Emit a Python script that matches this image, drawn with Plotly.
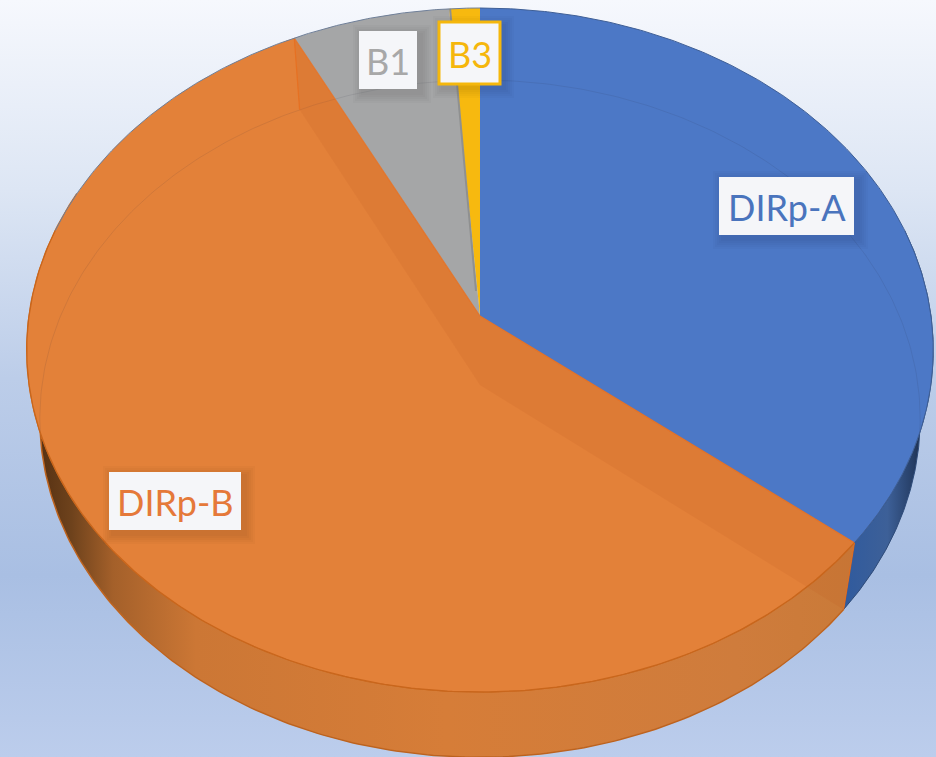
import numpy as np
import plotly.graph_objects as go

# ---- data ----
categories = ["DIRp-A", "DIRp-B", "B1", "B3"]
values = [35.8, 56.8, 6.2, 1.2]
top_colors = ["#4c78c6", "#e38139", "#a5a6a7", "#f7b90f"]
label_colors = ["#4a74bd", "#e5793a", "#a8a8a8", "#f5b70c"]

W, H = 936, 757
CX = 480
K = 0.0994
TOP = dict(b=316.0, a=307.2, r=451.0)
BOT = dict(b=385.0, a=297.0, r=438.0)


def project(theta_deg, plane):
    t = np.radians(theta_deg)
    u, v = np.sin(t), -np.cos(t)
    w = 1 - K * v
    return CX + plane["r"] * u / w, (plane["b"] + plane["a"] * v) / w


def arc(a0, a1, plane, n=220):
    return project(np.linspace(a0, a1, n), plane)


def poly(x, y, fill=None, line=None, lw=0, gradient=None):
    tr = dict(x=np.asarray(x).tolist(), y=np.asarray(y).tolist(), mode="lines",
              hoverinfo="skip", showlegend=False)
    tr["line"] = dict(color=line or "rgba(0,0,0,0)", width=lw)
    if fill is not None or gradient is not None:
        tr["fill"] = "toself"
    if fill is not None:
        tr["fillcolor"] = fill
    if gradient is not None:
        tr["fillgradient"] = gradient
    return go.Scatter(**tr)


edges = np.concatenate([[0], np.cumsum(values)]) * 3.6
fig = go.Figure()

# background
fig.add_trace(poly([0, W, W, 0, 0], [0, 0, H, H, 0], fill="#ccd9ee", gradient=dict(
    type="vertical", start=0, stop=H,
    colorscale=[[0, "#f6f8fd"], [0.25, "#dde6f4"], [0.5, "#bccde9"],
                [0.76, "#a9bfe3"], [1, "#bccdec"]])))

# outer wall: blue
ax_t, ay_t = arc(75, edges[1], TOP)
ax_b, ay_b = arc(75, edges[1], BOT)
fig.add_trace(poly(np.r_[ax_t, ax_b[::-1]], np.r_[ay_t, ay_b[::-1]], fill="#34588f", line="#2f4f80", lw=1,
                   gradient=dict(type="horizontal", start=840, stop=926,
                                 colorscale=[[0, "#2f5a9e"], [0.55, "#3d6098"], [0.85, "#263e66"], [1, "#18253d"]])))
# outer wall: orange
bx_t, by_t = arc(edges[1], 292, TOP)
bx_b, by_b = arc(edges[1], 292, BOT)
fig.add_trace(poly(np.r_[bx_t, bx_b[::-1]], np.r_[by_t, by_b[::-1]], fill="#d07a38", line="#c9691f", lw=1.5,
                   gradient=dict(type="horizontal", start=30, stop=860,
                                 colorscale=[[0, "#4f2c10"], [0.05, "#6e421c"], [0.1, "#a4602a"],
                                             [0.2, "#cc7735"], [0.5, "#d67d38"], [0.85, "#cf7c3c"], [1, "#c97a38"]])))

# top face slices
for i, c in enumerate(top_colors):
    x, y = arc(edges[i], edges[i + 1], TOP, n=400)
    fig.add_trace(poly(np.r_[CX, x, CX], np.r_[TOP["b"], y, TOP["b"]], fill=c))

# bottom ring seen through the top face
rx, ry = arc(0, 360, BOT, n=500)
fig.add_trace(poly(rx, ry, line="rgba(40,40,60,0.10)", lw=1))

# inner walls of the orange slice, seen through
for ang in (edges[1], edges[2]):
    tx, ty = project(np.array([ang]), TOP)
    qx, qy = project(np.array([ang]), BOT)
    fig.add_trace(poly([CX, tx[0], qx[0], CX, CX], [TOP["b"], ty[0], qy[0], BOT["b"], TOP["b"]],
                       fill="rgba(190,95,40,0.16)"))
    fig.add_trace(poly([CX, tx[0], qx[0]], [TOP["b"], ty[0], qy[0]], line="rgba(232,110,30,0.85)", lw=1.2))

# wall between the two small slices
tx, ty = project(np.array([edges[3]]), TOP)
fig.add_trace(poly([CX - 4, tx[0] + 1], [TOP["b"] - 25, ty[0]], line="#8f9090", lw=2))

# rims
ex, ey = arc(edges[1], 285, TOP, n=300)
fig.add_trace(poly(ex, ey, line="#c9661c", lw=1.2))
ex, ey = arc(0, edges[1], TOP, n=300)
fig.add_trace(poly(ex, ey, line="#3f5f96", lw=1))
ex, ey = arc(285, 360, TOP, n=200)
fig.add_trace(poly(ex, ey, line="#6f7f98", lw=1))

# labels
boxes = {"DIRp-A": (719, 854, 177, 235), "DIRp-B": (109, 241, 472, 530),
         "B1": (359, 417, 31, 89), "B3": (439, 500, 22, 84)}
shapes, annotations = [], []
for name, col in zip(categories, label_colors):
    x0, x1, y0, y1 = boxes[name]
    for g in (10, 8, 6, 4, 2):
        shapes.append(dict(type="rect", xref="x", yref="y", x0=x0 - g + 4, x1=x1 + g + 4,
                           y0=y0 - g + 4, y1=y1 + g + 4, fillcolor="rgba(0,0,0,0.018)",
                           line=dict(width=0), layer="above"))
    boxed = name == "B3"
    shapes.append(dict(type="rect", xref="x", yref="y", x0=x0, x1=x1, y0=y0, y1=y1,
                       fillcolor="#f5f6f9",
                       line=dict(width=3 if boxed else 0, color=col), layer="above"))
    annotations.append(dict(x=(x0 + x1) / 2, y=(y0 + y1) / 2 + 1, xref="x", yref="y", text=name,
                            showarrow=False, font=dict(family="Lato", size=36, color=col)))

fig.update_layout(
    width=W, height=H, margin=dict(l=0, r=0, t=0, b=0), showlegend=False,
    paper_bgcolor="#ccd9ee", plot_bgcolor="#ccd9ee",
    xaxis=dict(range=[0, W], visible=False, fixedrange=True),
    yaxis=dict(range=[H, 0], visible=False, fixedrange=True),
    shapes=shapes, annotations=annotations,
)
fig.write_html("out.html", config=dict(displayModeBar=False),
               post_script="document.body.style.margin='0';document.documentElement.style.overflow='hidden';")
